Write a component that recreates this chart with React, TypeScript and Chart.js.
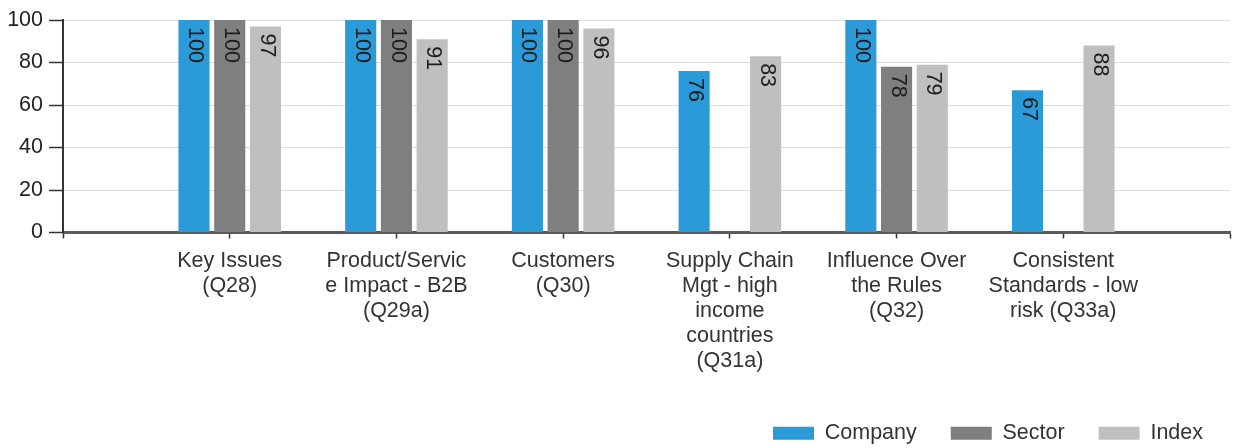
import React, { useEffect, useRef } from "react";
import { Chart, registerables } from "chart.js";

Chart.register(...registerables);

const FONT = '"Liberation Sans", Arial, Helvetica, sans-serif';

const categories: (string | string[])[] = [
  "",
  ["Key Issues", "(Q28)"],
  ["Product/Servic", "e Impact - B2B", "(Q29a)"],
  ["Customers", "(Q30)"],
  ["Supply Chain", "Mgt - high", "income", "countries", "(Q31a)"],
  ["Influence Over", "the Rules", "(Q32)"],
  ["Consistent", "Standards - low", "risk (Q33a)"],
  "",
];

const companyValues = [null, 100, 100, 100, 76, 100, 67, null];
const sectorValues = [null, 100, 100, 100, null, 78, null, null];
const indexValues = [null, 97, 91, 96, 83, 79, 88, null];

const seriesNames = ["Company", "Sector", "Index"];
const seriesColors = ["#2b9ad9", "#7f7f7f", "#bfbfbf"];

const yMin = 0;
const yMax = 100;
const yStep = 20;

const barLabelPlugin = {
  id: "barLabels",
  afterDatasetsDraw(chart: any) {
    const ctx = chart.ctx;
    ctx.save();
    ctx.font = `21.5px ${FONT}`;
    ctx.fillStyle = "#1e1e1e";
    ctx.textAlign = "left";
    ctx.textBaseline = "middle";
    chart.data.datasets.forEach((ds: any, di: number) => {
      const meta = chart.getDatasetMeta(di);
      meta.data.forEach((bar: any, i: number) => {
        const v = ds.data[i];
        if (v === null || v === undefined) return;
        const { x, y } = bar.getProps(["x", "y"], true);
        ctx.save();
        ctx.translate(x + 1, y + 7);
        ctx.rotate(Math.PI / 2);
        ctx.fillText(String(v), 0, 0);
        ctx.restore();
      });
    });
    ctx.restore();
  },
};

export default function App() {
  const canvasRef = useRef<HTMLCanvasElement | null>(null);

  useEffect(() => {
    if (!canvasRef.current) return;
    Chart.defaults.font.family = FONT;
    const values = [companyValues, sectorValues, indexValues];
    const chart = new Chart(canvasRef.current, {
      type: "bar",
      data: {
        labels: categories as any,
        datasets: seriesNames.map((name, k) => ({
          label: name,
          data: values[k] as any,
          backgroundColor: seriesColors[k],
          borderWidth: 0,
          categoryPercentage: 0.643,
          barPercentage: 0.87,
        })),
      },
      options: {
        animation: false,
        responsive: true,
        maintainAspectRatio: false,
        layout: { padding: { left: 0, right: 3, top: 20, bottom: -6 } },
        scales: {
          x: {
            offset: false,
            grid: {
              display: true,
              offset: false,
              drawOnChartArea: false,
              drawTicks: true,
              tickLength: 6,
              tickColor: "#333333",
              tickWidth: 1.5,
            },
            border: { display: true, color: "#5a5a5a", width: 3 },
            ticks: {
              color: "#333333",
              font: { size: 21.5, lineHeight: 25 / 21.5 },
              padding: 10,
              autoSkip: false,
              maxRotation: 0,
              minRotation: 0,
            },
            afterFit: (s: any) => {
              s.height = 156;
            },
          },
          y: {
            min: yMin,
            max: yMax,
            ticks: {
              stepSize: yStep,
              color: "#222222",
              font: { size: 21.5 },
              padding: 6,
            },
            grid: {
              color: "#dddddd",
              lineWidth: 1,
              tickLength: 14,
              tickColor: "#333333",
              tickWidth: 1.5,
            },
            border: { display: true, color: "#333333", width: 2 },
            afterFit: (s: any) => {
              s.width = 63;
            },
          },
        },
        plugins: {
          legend: {
            position: "bottom",
            align: "end",
            labels: {
              boxWidth: 41,
              boxHeight: 13,
              padding: 34,
              color: "#333333",
              font: { size: 21.5 },
            },
          },
          tooltip: { enabled: false },
        },
      },
      plugins: [barLabelPlugin],
    });
    return () => chart.destroy();
  }, []);

  return (
    <div
      style={{
        position: "fixed",
        left: 0,
        top: 0,
        width: 1240,
        height: 448,
        background: "#ffffff",
      }}
    >
      <canvas ref={canvasRef} />
    </div>
  );
}
